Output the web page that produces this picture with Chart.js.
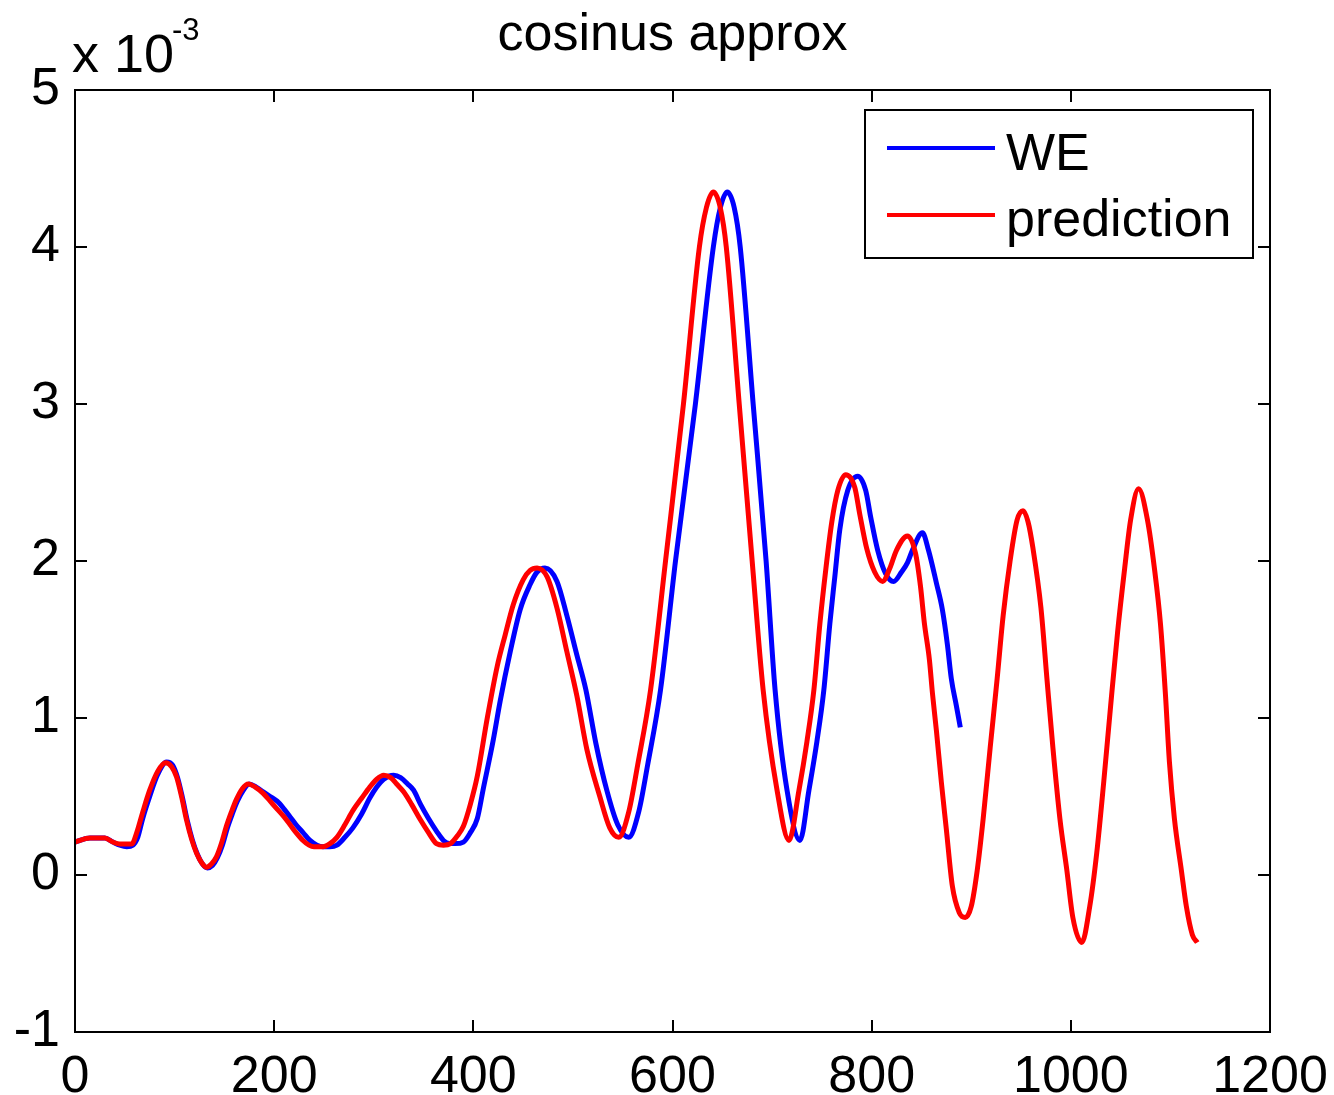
<!DOCTYPE html>
<html>
<head>
<meta charset="utf-8">
<title>cosinus approx</title>
<script src="https://cdn.jsdelivr.net/npm/chart.js@4.4.1/dist/chart.umd.min.js"></script>
<style>
  html, body { margin: 0; padding: 0; background: #fff; }
  #wrap { width: 1334px; height: 1095px; position: relative; }
</style>
</head>
<body>
<div id="wrap"><canvas id="cosinus"></canvas></div>
<script>
// values are in units of 10^-3
const weX = [
    0, 15, 30, 38, 45, 52, 58, 63, 68, 75,
    83, 92, 98, 103, 108, 113, 118, 123, 128, 133,
    138, 143, 148, 153, 158, 163, 169, 175, 182, 189,
    196, 203, 210, 216, 222, 229, 236, 243, 249, 256,
    263, 271, 279, 288, 296, 303, 310, 320, 327, 334,
    340, 347, 355, 363, 370, 376, 382, 390, 397, 404,
    410, 420, 427, 437, 447, 457, 464, 472, 484, 494,
    504, 513, 523, 534, 545, 556, 566, 575, 588, 603,
    623, 641, 648, 655, 662, 668, 681, 694, 703, 715,
    728, 737, 745, 752, 758, 763, 768, 776, 786, 794,
    799, 806, 814, 822, 830, 836, 841, 851, 857, 865,
    871, 876, 880, 885, 889
];
const weY = [
    0.21, 0.235, 0.235, 0.21, 0.19, 0.18, 0.19, 0.24, 0.36, 0.5,
    0.64, 0.72, 0.7, 0.62, 0.49, 0.34, 0.22, 0.13, 0.07, 0.045,
    0.06, 0.11, 0.19, 0.3, 0.39, 0.47, 0.54, 0.58, 0.56, 0.53,
    0.5, 0.47, 0.42, 0.37, 0.32, 0.27, 0.22, 0.19, 0.18, 0.18,
    0.19, 0.24, 0.3, 0.39, 0.49, 0.56, 0.61, 0.635, 0.62, 0.58,
    0.54, 0.45, 0.36, 0.28, 0.22, 0.2, 0.2, 0.21, 0.27, 0.36,
    0.55, 0.86, 1.11, 1.42, 1.69, 1.85, 1.93, 1.955, 1.87, 1.65,
    1.4, 1.18, 0.84, 0.54, 0.32, 0.24, 0.4, 0.7, 1.18, 2.0,
    3.0, 4.0, 4.25, 4.35, 4.25, 4.0, 3.0, 2.0, 1.18, 0.54,
    0.22, 0.54, 0.85, 1.18, 1.6, 1.9, 2.2, 2.45, 2.54, 2.45,
    2.28, 2.07, 1.92, 1.87, 1.93, 1.99, 2.07, 2.18, 2.07, 1.86,
    1.69, 1.47, 1.25, 1.08, 0.94
];

const predX = [
    0, 15, 30, 38, 45, 57, 62, 68, 75, 83,
    91, 97, 102, 107, 112, 117, 122, 127, 132, 137,
    142, 147, 152, 157, 162, 168, 174, 181, 189, 196,
    203, 210, 216, 222, 229, 235, 240, 249, 256, 263,
    271, 279, 288, 296, 303, 310, 317, 323, 330, 338,
    347, 355, 363, 370, 377, 384, 390, 397, 404, 414,
    424, 432, 440, 450, 457, 464, 474, 484, 494, 504,
    514, 527, 537, 546, 556, 565, 578, 593, 611, 627,
    634, 641, 648, 654, 667, 680, 691, 705, 717, 727,
    735, 742, 748, 754, 760, 766, 774, 783, 788, 795,
    803, 811, 818, 825, 836, 844, 849, 853, 858, 861,
    865, 870, 875, 881, 888, 894, 900, 906, 912, 919,
    926, 932, 939, 946, 952, 957, 962, 970, 976, 982,
    989, 996, 1002, 1011, 1019, 1026, 1033, 1040, 1047, 1054,
    1060, 1068, 1077, 1084, 1090, 1095, 1099, 1104, 1111, 1116,
    1122, 1127
];
const predY = [
    0.21, 0.235, 0.235, 0.21, 0.197, 0.197, 0.27, 0.4, 0.54, 0.66,
    0.715, 0.69, 0.625, 0.5, 0.35, 0.23, 0.14, 0.08, 0.05, 0.07,
    0.115, 0.2, 0.31, 0.4, 0.48, 0.55, 0.58, 0.56, 0.52, 0.47,
    0.42, 0.37, 0.32, 0.27, 0.22, 0.19, 0.18, 0.18, 0.2, 0.24,
    0.32, 0.41, 0.49, 0.56, 0.61, 0.635, 0.62, 0.58, 0.53, 0.45,
    0.35, 0.27, 0.2, 0.19, 0.2, 0.25, 0.31, 0.45, 0.63, 1.0,
    1.33, 1.53, 1.72, 1.88, 1.94, 1.955, 1.9, 1.7, 1.42, 1.14,
    0.8, 0.5, 0.3, 0.24, 0.4, 0.7, 1.18, 2.0, 3.0, 4.0,
    4.25, 4.35, 4.25, 4.0, 3.0, 2.0, 1.18, 0.54, 0.22, 0.54,
    0.85, 1.18, 1.6, 1.95, 2.25, 2.45, 2.55, 2.47, 2.3, 2.08,
    1.93, 1.87, 1.95, 2.07, 2.16, 2.05, 1.84, 1.6, 1.37, 1.16,
    0.92, 0.59, 0.29, -0.07, -0.24, -0.27, -0.2, 0.03, 0.36, 0.81,
    1.25, 1.65, 2.0, 2.26, 2.32, 2.25, 2.08, 1.7, 1.25, 0.81,
    0.36, 0.03, -0.27, -0.43, -0.2, 0.14, 0.59, 1.08, 1.55, 1.95,
    2.26, 2.46, 2.26, 1.95, 1.6, 1.15, 0.72, 0.36, 0.03, -0.2,
    -0.38, -0.43
];

const seriesNames = ['WE', 'prediction'];
const xTicks = [0, 200, 400, 600, 800, 1000, 1200];
const yTicks = [-1, 0, 1, 2, 3, 4, 5];
const titleText = 'cosinus approx';

const colors = {
    we   : '#0000ff',
    pred : '#ff0000'
};

const FONT = '"Liberation Sans", Arial, Helvetica, sans-serif';
const TICK = 12;

Chart.defaults.font.family = FONT;
Chart.defaults.color = '#000';

function toPoints(xs, ys) {
    return xs.map((x, i) => ({ x: x, y: ys[i] }));
}

// matlab style box, inward ticks, title, exponent and legend
const matlabBox = {
    id: 'matlabBox',
    afterDraw(chart) {
        const ctx = chart.ctx;
        const a = chart.chartArea;
        const xs = chart.scales.x;
        const ys = chart.scales.y;
        ctx.save();
        ctx.strokeStyle = '#000';
        ctx.lineWidth = 2;
        ctx.strokeRect(a.left, a.top, a.right - a.left, a.bottom - a.top);

        ctx.beginPath();
        yTicks.forEach(v => {
            const py = Math.round(ys.getPixelForValue(v));
            ctx.moveTo(a.left, py);  ctx.lineTo(a.left + TICK, py);
            ctx.moveTo(a.right, py); ctx.lineTo(a.right - TICK, py);
        });
        xTicks.forEach(v => {
            const px = Math.round(xs.getPixelForValue(v));
            ctx.moveTo(px, a.bottom); ctx.lineTo(px, a.bottom - TICK);
            ctx.moveTo(px, a.top);    ctx.lineTo(px, a.top + TICK);
        });
        ctx.stroke();

        // title
        ctx.fillStyle = '#000';
        ctx.textAlign = 'center';
        ctx.textBaseline = 'alphabetic';
        ctx.font = '52px ' + FONT;
        ctx.fillText(titleText, (a.left + a.right) / 2, 50);

        // exponent
        ctx.textAlign = 'left';
        ctx.font = '54px ' + FONT;
        ctx.fillText('x 10', 72, 72);
        ctx.font = '31px ' + FONT;
        ctx.fillText('-3', 172, 40);

        // legend
        const lx = 865, ly = 110, lw = 388, lh = 148;
        ctx.fillStyle = '#fff';
        ctx.fillRect(lx, ly, lw, lh);
        ctx.strokeRect(lx, ly, lw, lh);
        const rows = [148, 215];
        const bases = [170, 236];
        chart.data.datasets.forEach((ds, i) => {
            ctx.strokeStyle = ds.borderColor;
            ctx.lineWidth = 4;
            ctx.beginPath();
            ctx.moveTo(887, rows[i]);
            ctx.lineTo(995, rows[i]);
            ctx.stroke();
            ctx.fillStyle = '#000';
            ctx.font = '52px ' + FONT;
            ctx.fillText(ds.label, 1006, bases[i]);
        });
        ctx.restore();
    }
};

const ctx = document.getElementById('cosinus').getContext('2d');
const cosinusChart = new Chart(ctx, {
    type: 'line',
    data: {
        datasets: [{
            label: seriesNames[0],
            data: toPoints(weX, weY),
            borderColor: colors.we,
            order: 1
        },
        {
            label: seriesNames[1],
            data: toPoints(predX, predY),
            borderColor: colors.pred,
            order: 0
        }]
    },
    options: {
        responsive: true,
        maintainAspectRatio: false,
        animation: false,
        layout: {
            padding: { top: 90, right: 64, left: 0, bottom: 0 }
        },
        elements: {
            point: { radius: 0 },
            line: { borderWidth: 5, cubicInterpolationMode: 'monotone', fill: false }
        },
        plugins: {
            legend: { display: false },
            title: { display: false },
            tooltip: { enabled: false }
        },
        scales: {
            x: {
                type: 'linear',
                min: 0,
                max: 1200,
                grid: { display: false, drawTicks: false },
                border: { display: false },
                ticks: {
                    stepSize: 200,
                    autoSkip: false,
                    maxRotation: 0,
                    padding: 14,
                    font: { size: 52 },
                    callback: v => String(v)
                },
                afterFit(scale) {
                    scale.height = 63;
                    scale.paddingLeft = 0;
                    scale.paddingRight = 0;
                }
            },
            y: {
                type: 'linear',
                min: -1,
                max: 5,
                grid: { display: false, drawTicks: false },
                border: { display: false },
                ticks: {
                    stepSize: 1,
                    padding: 15,
                    font: { size: 52 },
                    callback: v => String(v)
                },
                afterFit(scale) {
                    scale.width = 75;
                    scale.paddingTop = 0;
                    scale.paddingBottom = 0;
                }
            }
        }
    },
    plugins: [matlabBox]
});
</script>
</body>
</html>
